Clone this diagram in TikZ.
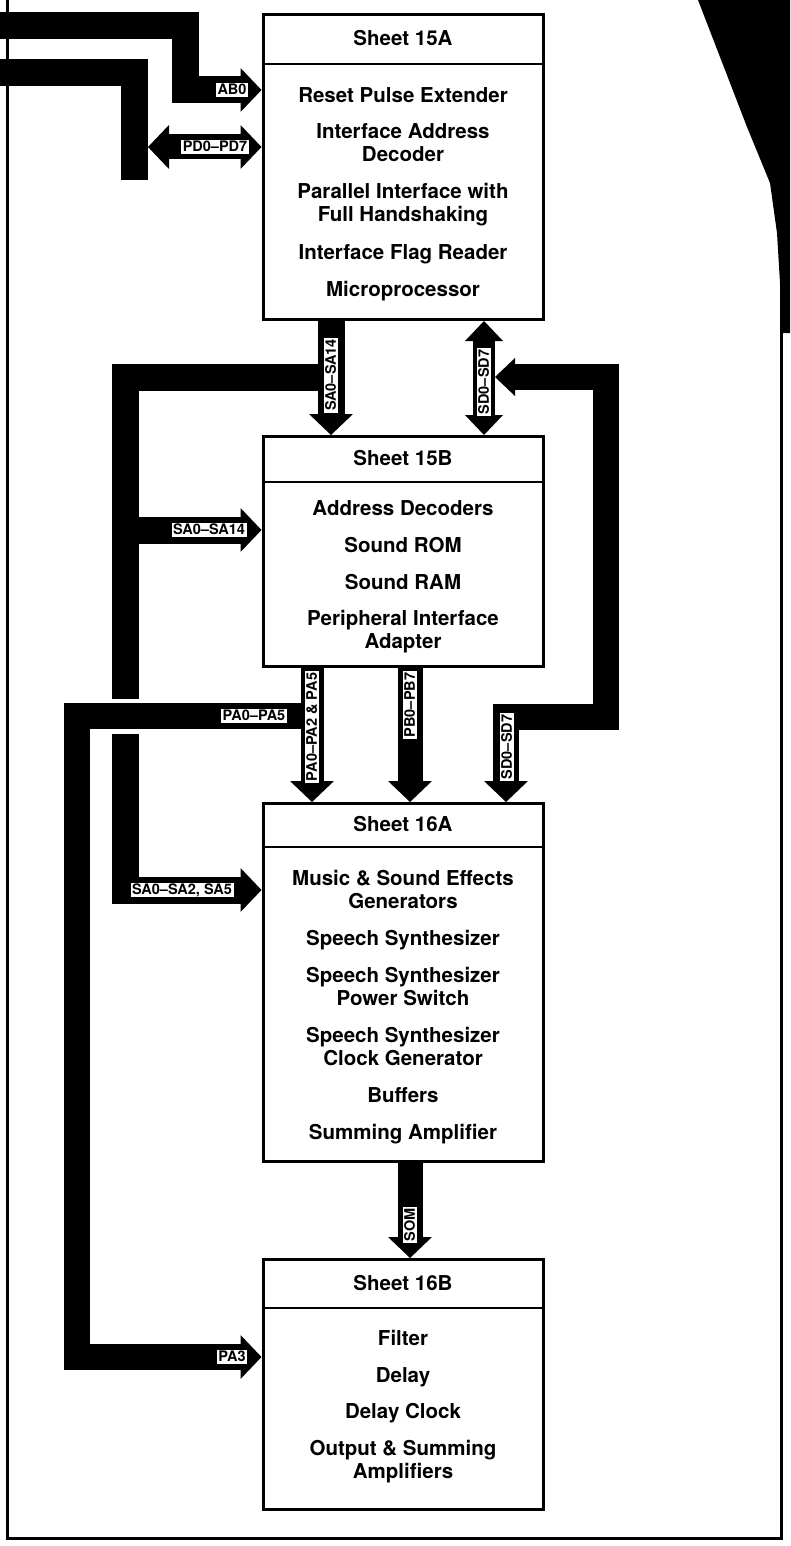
\documentclass[tikz,border=0pt]{standalone}
\usepackage{fontspec}
\setmainfont{TeX Gyre Heros}
\usetikzlibrary{arrows.meta}
\tikzset{
  sheet/.style={draw, line width=3pt, minimum width=280pt, anchor=north, inner sep=0pt},
  sheetline/.style={line width=2.5pt},
  title/.style={font=\fontsize{20.5}{23}\selectfont\bfseries, anchor=base},
  bus/.style={draw=black, line width=27pt},
  buslabel/.style={fill=white, draw=black, line width=0.8pt, inner sep=2pt,
    text height=10.5pt, text depth=1pt, font=\fontsize{14.5}{15}\selectfont\bfseries},
  frame/.style={line width=3pt},
  bigtip/.tip={Triangle[width=44pt, length=21pt, line width=0pt]},
  smalltip/.tip={Triangle[width=38pt, length=20pt, line width=0pt]}
}
\begin{document}
\begin{tikzpicture}[x=1pt, y=-1pt]
\useasboundingbox (0,0) rectangle (790,1546);

\draw[frame] (7,0) -- (7,1538) -- (781,1538) -- (781,200);
\fill (698,0) -- (790,0) -- (790,333) -- (783,333) -- (777,233) -- (770,183) -- (747,127) -- (720,57) -- cycle;

\foreach \nm/\ty/\hh/\hdr/\ttl in {s15a/13/305/51/Sheet 15A, s15b/435/230/47/Sheet 15B,
    s16a/802/358/45/Sheet 16A, s16b/1258/250/50/Sheet 16B} {
  \node[sheet, minimum height=\hh pt] (\nm) at (403,\ty) {};
  \draw[sheetline] ([yshift=-\hdr pt]\nm.north west) -- ([yshift=-\hdr pt]\nm.north east);
  \node[title] (\nm-t) at (403,\ty+\hdr/2+7) {\ttl};
}

\foreach \y/\txt [count=\i] in {103/Reset Pulse Extender, 139/Interface Address, 162/Decoder,
    199/Parallel Interface with, 222/Full Handshaking, 259/Interface Flag Reader, 296/Microprocessor,
    515/Address Decoders, 552/Sound ROM, 589/Sound RAM, 625/Peripheral Interface, 648/Adapter,
    885/Music \& Sound Effects, 908/Generators, 945/Speech Synthesizer, 982/Speech Synthesizer,
    1005/Power Switch, 1042/Speech Synthesizer, 1065/Clock Generator, 1102/Buffers, 1139/Summing Amplifier,
    1345/Filter, 1382/Delay, 1418/Delay Clock, 1455/Output \& Summing, 1478/Amplifiers}
  \node[title] (ln\i) at (403,\y) {\txt};

% buses from the left
\coordinate (ab0) at (0,26);
\coordinate (ab1) at (185,90);
\draw[bus, -bigtip] (ab0) -| (ab1) -- (ab1 -| s15a.west);
\coordinate (pd0) at (0,73);
\coordinate (pd1) at (134,180);
\draw[bus] (pd0) -| (pd1);
\coordinate (pd2) at (148,147);
\draw[bus, line width=25pt, bigtip-bigtip] (pd2) -- (pd2 -| s15a.west);

% address bus
\coordinate (sa) at (331,377);
\coordinate (sa-l) at (125,530);
\coordinate (sa-b) at (125,890);
\draw[bus, -bigtip] (s15a.south -| sa) -- (s15b.north -| sa);
\draw[bus, -bigtip] (sa) -| (sa-b) -- (sa-b -| s16a.west);
\draw[bus, -bigtip] (sa-l) -- (sa-l -| s15b.west);

% port A
\coordinate (pa) at (312,716);
\coordinate (pa-b) at (77,1357);
\draw[white, line width=35pt] (pa) -- (pa -| pa-b);
\draw[bus, line width=26pt, -bigtip] (pa) -| (pa-b) -- (pa-b -| s16b.west);
\draw[bus, line width=23pt, -bigtip] (s15b.south -| pa) -- (s16a.north -| pa);

% port B and SOM
\coordinate (pb) at (410,0);
\draw[bus, line width=25pt, -bigtip] (s15b.south -| pb) -- (s16a.north -| pb);
\draw[bus, line width=25pt, -bigtip] (s16a.south -| pb) -- (s16b.north -| pb);

% data bus
\coordinate (sd) at (484,0);
\draw[bus, line width=22pt, smalltip-smalltip] (s15a.south -| sd) -- (s15b.north -| sd);
\coordinate (sd-t) at (495,377);
\coordinate (sd-r) at (606,717);
\coordinate (sd-d) at (506,717);
\draw[bus, line width=26pt, smalltip-bigtip] (sd-t) -| (sd-r) -- (sd-d) -- (sd-d |- s16a.north);

\node[buslabel] (l-ab) at (232,90) {AB0};
\node[buslabel] (l-pd) at (215,147) {PD0--PD7};
\node[buslabel, rotate=90] (l-sa1) at (331,375) {SA0--SA14};
\node[buslabel, rotate=90] (l-sd1) at (484,382) {SD0--SD7};
\node[buslabel] (l-sa2) at (209,530) {SA0--SA14};
\node[buslabel] (l-pa1) at (254,716) {PA0--PA5};
\node[buslabel, rotate=90] (l-pa2) at (312,727) {PA0--PA2 \& PA5};
\node[buslabel, rotate=90] (l-pb) at (410,705) {PB0--PB7};
\node[buslabel, rotate=90] (l-sd2) at (507,747) {SD0--SD7};
\node[buslabel] (l-sa3) at (182,890) {SA0--SA2, SA5};
\node[buslabel, rotate=90] (l-som) at (410,1225) {SOM};
\node[buslabel] (l-pa3) at (232,1357) {PA3};
\end{tikzpicture}
\end{document}
